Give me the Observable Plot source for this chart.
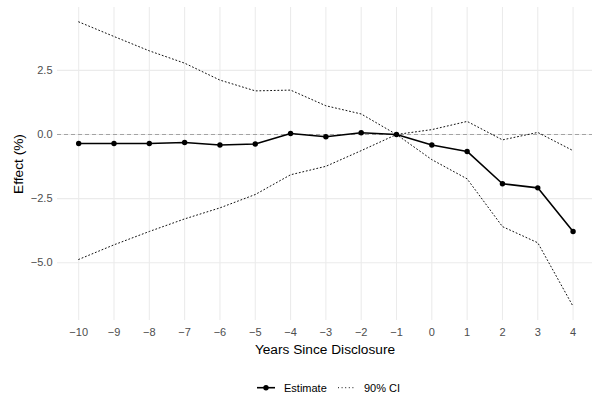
<!DOCTYPE html>
<html>
<head>
<meta charset="utf-8">
<script src="https://cdn.jsdelivr.net/npm/d3@7"></script>
<script src="https://cdn.jsdelivr.net/npm/@observablehq/plot@0.6"></script>
<style>
  html, body { margin: 0; padding: 0; background: #fff; }
  body { width: 592px; height: 403px; overflow: hidden; font-family: "Liberation Sans", Arial, sans-serif; }
  #legend { position: relative; width: 592px; height: 41px; }
  #legend svg { position: absolute; left: 0; top: 0; }
</style>
</head>
<body>
<div id="chart"></div>
<div id="legend"></div>
<script>
const years = [-10, -9, -8, -7, -6, -5, -4, -3, -2, -1, 0, 1, 2, 3, 4];
const estimate = [-0.35, -0.35, -0.35, -0.31, -0.41, -0.37, 0.04, -0.09, 0.07, 0, -0.41, -0.66, -1.92, -2.08, -3.78];
const ciUpper = [4.39, 3.82, 3.26, 2.78, 2.12, 1.70, 1.73, 1.12, 0.80, 0, 0.19, 0.51, -0.21, 0.08, -0.63];
const ciLower = [-4.87, -4.30, -3.78, -3.29, -2.86, -2.34, -1.57, -1.24, -0.63, 0, -0.98, -1.73, -3.59, -4.22, -6.70];
const yTicks = [-5, -2.5, 0, 2.5];
const xLabel = "Years Since Disclosure";
const yLabel = "Effect (%)";
const legendLabels = ["Estimate", "90% CI"];

const rows = years.map((t, i) => ({t, est: estimate[i], lo: ciLower[i], hi: ciUpper[i]}));
const fmt = d => d.toFixed(1).replace("-", "\u2212");
const fmtX = d => String(d).replace("-", "\u2212");

const chart = Plot.plot({
  width: 592,
  height: 362,
  marginTop: 7,
  marginBottom: 42,
  marginLeft: 57,
  marginRight: 0,
  style: {fontFamily: "'Liberation Sans', Arial, sans-serif", fontSize: "11px", background: "#fff", overflow: "visible"},
  x: {domain: [-10.6, 4.55], ticks: years, label: null},
  y: {domain: [-7.25, 4.95], ticks: yTicks, label: null},
  marks: [
    Plot.gridX(years, {stroke: "#EBEBEB", strokeOpacity: 1, strokeWidth: 1.07}),
    Plot.gridY(yTicks, {stroke: "#EBEBEB", strokeOpacity: 1, strokeWidth: 1.07}),
    Plot.ruleY([0], {stroke: "#9a9a9a", strokeWidth: 0.9, strokeDasharray: "4,3"}),
    Plot.line(rows, {x: "t", y: "hi", stroke: "#111", strokeWidth: 1, strokeDasharray: "1,2.6"}),
    Plot.line(rows, {x: "t", y: "lo", stroke: "#111", strokeWidth: 1, strokeDasharray: "1,2.6"}),
    Plot.line(rows, {x: "t", y: "est", stroke: "#000", strokeWidth: 1.6}),
    Plot.dot(rows, {x: "t", y: "est", fill: "#000", r: 2.7}),
    Plot.axisX({ticks: years, tickSize: 0, tickPadding: 8, tickFormat: fmtX, fill: "#4D4D4D", fontSize: 11, label: null}),
    Plot.axisY({ticks: yTicks, tickSize: 0, tickPadding: 5, tickFormat: fmt, fill: "#4D4D4D", fontSize: 11, label: null}),
    Plot.text([xLabel], {text: d => d, frameAnchor: "bottom", textAnchor: "middle", lineAnchor: "bottom", dy: 33, fontSize: 13.7, fill: "#000"}),
    Plot.text([yLabel], {text: d => d, frameAnchor: "left", textAnchor: "middle", lineAnchor: "middle", rotate: -90, dx: -38.7, fontSize: 13.7, fill: "#000"})
  ]
});
document.getElementById("chart").appendChild(chart);

// Legend below the chart
const lg = d3.select("#legend").append("svg").attr("width", 592).attr("height", 41);
const cy = 25.7;
lg.append("line").attr("x1", 257).attr("x2", 275).attr("y1", cy).attr("y2", cy).attr("stroke", "#000").attr("stroke-width", 1.6);
lg.append("circle").attr("cx", 266).attr("cy", cy).attr("r", 2.7).attr("fill", "#000");
lg.append("text").attr("x", 284).attr("y", cy).attr("dy", "0.35em").attr("font-size", 11).attr("fill", "#000")
  .attr("font-family", "'Liberation Sans', Arial, sans-serif").text(legendLabels[0]);
lg.append("line").attr("x1", 338).attr("x2", 356).attr("y1", cy).attr("y2", cy).attr("stroke", "#111").attr("stroke-width", 1).attr("stroke-dasharray", "1,2.6");
lg.append("text").attr("x", 364).attr("y", cy).attr("dy", "0.35em").attr("font-size", 11).attr("fill", "#000")
  .attr("font-family", "'Liberation Sans', Arial, sans-serif").text(legendLabels[1]);
</script>
</body>
</html>
